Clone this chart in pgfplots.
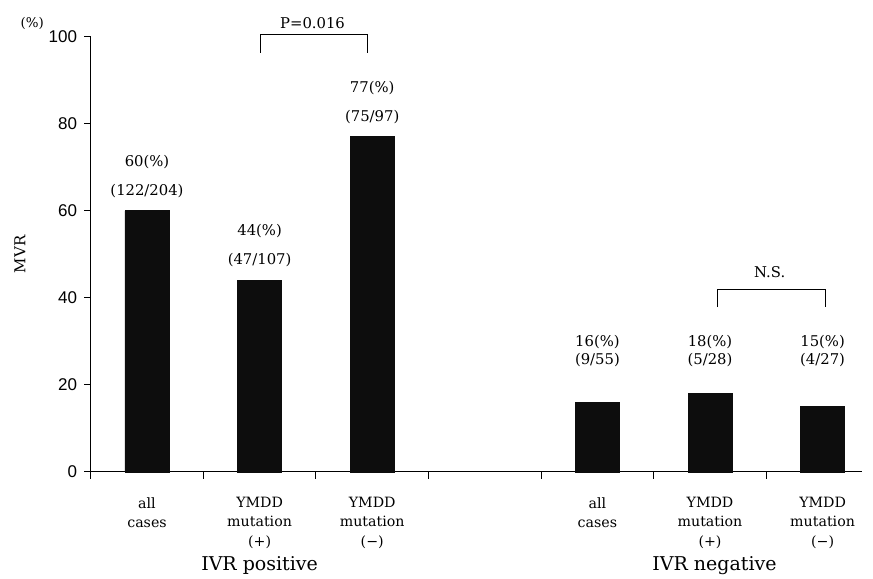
\documentclass[border=0pt]{standalone}
\usepackage{fontspec}
\setmainfont{DejaVu Serif}
\newfontfamily\sansf{Liberation Sans}
\usepackage{pgfplots}
\pgfplotsset{compat=1.18}
\newcommand\vs{\fontsize{7.4}{9}\selectfont}
\newcommand\cs{\fontsize{7.1}{9.6}\selectfont}
\begin{document}
\begin{tikzpicture}
\begin{axis}[
 x=56.3pt, y=2.1765pt,
 xmin=0.5, xmax=7.35, ymin=0, ymax=100,
 axis lines=left,
 axis line style={-, line width=0.5pt},
 every outer x axis line/.append style={-}, every outer y axis line/.append style={-},
 every inner x axis line/.append style={-}, every inner y axis line/.append style={-},
 clip=false,
 ytick={0,20,40,60,80,100},
 xtick={0.5,1.5,2.5,3.5,4.5,5.5,6.5}, xticklabels={},
 tick align=outside, xtick pos=bottom, ytick pos=left,
 major tick length=3.3pt,
 yticklabel style={font=\sansf\fontsize{8.5}{10}\selectfont},
 /pgf/number format/assume math mode=true,
 tick style={black, line width=0.5pt},
]
\addplot[ybar, bar width=22pt, fill=black!95, draw=black!95] coordinates {(1,60)(2,44)(3,77)(5,16)(6,18)(7,15)};

% value labels
\node[font=\vs] at (axis cs:1,71.3) {60(\%)};
\node[font=\vs] at (axis cs:1,64.6) {(122/204)};
\node[font=\vs] at (axis cs:2,55.3) {44(\%)};
\node[font=\vs] at (axis cs:2,48.6) {(47/107)};
\node[font=\vs] at (axis cs:3,88.3) {77(\%)};
\node[font=\vs] at (axis cs:3,81.6) {(75/97)};
\node[font=\vs] at (axis cs:5,29.9) {16(\%)};
\node[font=\vs] at (axis cs:5,25.7) {(9/55)};
\node[font=\vs] at (axis cs:6,29.9) {18(\%)};
\node[font=\vs] at (axis cs:6,25.7) {(5/28)};
\node[font=\vs] at (axis cs:7,29.9) {15(\%)};
\node[font=\vs] at (axis cs:7,25.7) {(4/27)};

% brackets
\draw[line width=0.5pt] (axis cs:2.01,96.3) |- (axis cs:2.96,100.4) -- (axis cs:2.96,96.3);
\node[font=\vs] at (axis cs:2.47,103.1) {P=0.016};
\draw[line width=0.5pt] (axis cs:6.07,37.9) |- (axis cs:7.03,42) -- (axis cs:7.03,37.9);
\node[font=\vs] at (axis cs:6.53,45.9) {N.S.};

% category labels
\node[font=\cs, align=center, anchor=north] at (axis cs:1,-4.2) {all\\cases};
\node[font=\cs, align=center, anchor=north] at (axis cs:2,-4.2) {YMDD\\mutation\\(+)};
\node[font=\cs, align=center, anchor=north] at (axis cs:3,-4.2) {YMDD\\mutation\\(−)};
\node[font=\cs, align=center, anchor=north] at (axis cs:5,-4.2) {all\\cases};
\node[font=\cs, align=center, anchor=north] at (axis cs:6,-4.2) {YMDD\\mutation\\(+)};
\node[font=\cs, align=center, anchor=north] at (axis cs:7,-4.2) {YMDD\\mutation\\(−)};

\node[font=\fontsize{9.5}{11}\selectfont] at (axis cs:2,-21.4) {IVR positive};
\node[font=\fontsize{9.5}{11}\selectfont] at (axis cs:6.04,-21.4) {IVR negative};

\node[font=\fontsize{6.7}{8}\selectfont] at (axis cs:-0.02,103.1) {(\%)};
\node[font=\fontsize{7.5}{9}\selectfont, rotate=90] at (axis cs:-0.128,50) {MVR};

\coordinate (bl) at (axis cs:-0.3055,-24.58);
\coordinate (tr) at (axis cs:7.4476,108.43);
\end{axis}
\pgfresetboundingbox
\path[use as bounding box] (bl) rectangle (tr);
\end{tikzpicture}
\end{document}
